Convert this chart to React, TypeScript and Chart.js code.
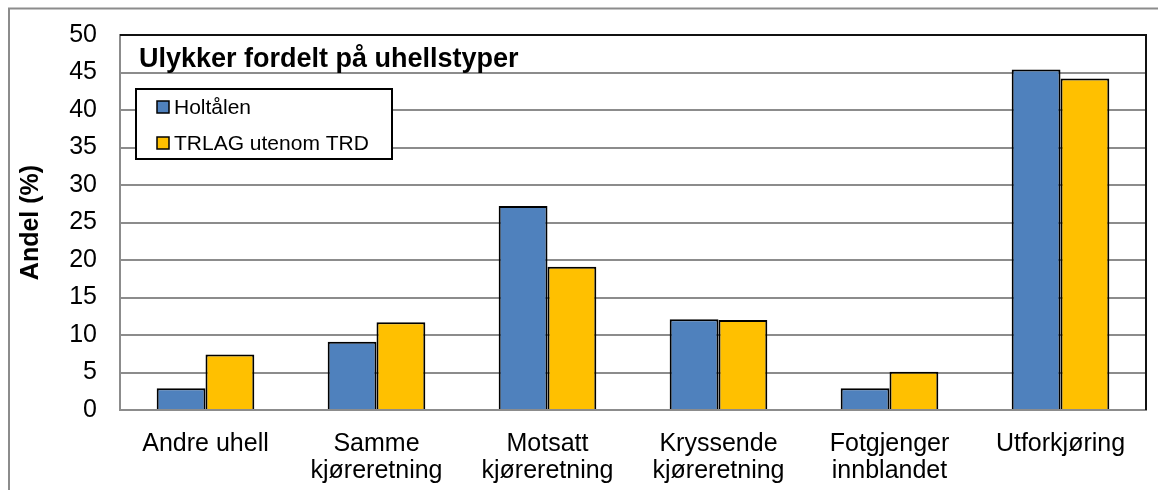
import React, { useEffect, useRef } from 'react';
import { Chart, registerables } from 'chart.js';

Chart.register(...registerables);

const categories: string[][] = [
  ['Andre uhell'],
  ['Samme', 'kjøreretning'],
  ['Motsatt', 'kjøreretning'],
  ['Kryssende', 'kjøreretning'],
  ['Fotgjenger', 'innblandet'],
  ['Utforkjøring'],
];
const holtalenValues = [2.9, 9.1, 27.2, 12.1, 2.9, 45.4];
const trlagValues = [7.4, 11.7, 19.1, 12.0, 5.1, 44.2];
const seriesNames = ['Holtålen', 'TRLAG utenom TRD'];
const seriesColors = ['#4f81bd', '#ffc000'];
const chartTitle = 'Ulykker fordelt på uhellstyper';
const yAxisTitle = 'Andel (%)';
const yMin = 0;
const yMax = 50;
const yStep = 5;

const FONT = '"Liberation Sans", Arial, Helvetica, sans-serif';

const overlayPlugin = {
  id: 'overlay',
  afterDraw(chart: any) {
    const { ctx, chartArea: a } = chart;
    ctx.save();
    // outer chart frame (left and top edges visible)
    ctx.strokeStyle = '#8c8c8c';
    ctx.lineWidth = 2;
    ctx.beginPath();
    ctx.moveTo(9, 520);
    ctx.lineTo(9, 8.5);
    ctx.lineTo(1200, 8.5);
    ctx.stroke();
    // plot area top and right border
    ctx.strokeStyle = '#111';
    ctx.lineWidth = 2;
    ctx.beginPath();
    ctx.moveTo(a.left, a.top);
    ctx.lineTo(a.right, a.top);
    ctx.lineTo(a.right, a.bottom);
    ctx.stroke();
    // chart title inside plot area
    ctx.fillStyle = '#000';
    ctx.font = `bold 27px ${FONT}`;
    ctx.textAlign = 'left';
    ctx.textBaseline = 'alphabetic';
    ctx.fillText(chartTitle, a.left + 19, 67);
    // legend box
    const bx = a.left + 16;
    const by = 89;
    const bw = 256;
    const bh = 70;
    ctx.fillStyle = '#fff';
    ctx.fillRect(bx, by, bw, bh);
    ctx.strokeStyle = '#000';
    ctx.lineWidth = 2;
    ctx.strokeRect(bx, by, bw, bh);
    ctx.font = `21px ${FONT}`;
    chart.data.datasets.forEach((ds: any, i: number) => {
      const base = by + 25 + i * 36;
      const cy = base - 7;
      ctx.fillStyle = ds.backgroundColor;
      ctx.fillRect(bx + 21, cy - 6, 12, 12);
      ctx.strokeStyle = '#000';
      ctx.lineWidth = 1.5;
      ctx.strokeRect(bx + 21, cy - 6, 12, 12);
      ctx.fillStyle = '#000';
      ctx.textBaseline = 'alphabetic';
      ctx.fillText(ds.label, bx + 38, base);
    });
    ctx.restore();
  },
};

export default function App() {
  const canvasRef = useRef<HTMLCanvasElement | null>(null);

  useEffect(() => {
    if (!canvasRef.current) return;
    const chart = new Chart(canvasRef.current, {
      type: 'bar',
      data: {
        labels: categories,
        datasets: [
          {
            label: seriesNames[0],
            data: holtalenValues,
            backgroundColor: seriesColors[0],
            borderColor: '#000',
            borderWidth: 2,
            categoryPercentage: 0.571,
            barPercentage: 1,
          },
          {
            label: seriesNames[1],
            data: trlagValues,
            backgroundColor: seriesColors[1],
            borderColor: '#000',
            borderWidth: 2,
            categoryPercentage: 0.571,
            barPercentage: 1,
          },
        ],
      },
      options: {
        animation: false,
        responsive: true,
        maintainAspectRatio: false,
        devicePixelRatio: 1,
        layout: { padding: { left: 10, top: 35, right: 12, bottom: 0 } },
        plugins: {
          legend: { display: false },
          title: { display: false },
          tooltip: { enabled: false },
        },
        scales: {
          x: {
            grid: { display: false, drawTicks: false },
            border: { display: true, color: '#8c8c8c', width: 2 },
            ticks: {
              color: '#000',
              font: { family: FONT, size: 25, lineHeight: 1.1 },
              padding: 20,
              maxRotation: 0,
              autoSkip: false,
            },
            afterFit: (s: any) => {
              s.height = 80;
              s.paddingLeft = 0;
              s.paddingRight = 0;
            },
          },
          y: {
            min: yMin,
            max: yMax,
            grid: { color: '#8c8c8c', lineWidth: 2, drawTicks: false },
            border: { display: true, color: '#8c8c8c', width: 2 },
            ticks: {
              stepSize: yStep,
              color: '#000',
              font: { family: FONT, size: 25 },
              padding: 23,
            },
            title: {
              display: true,
              text: yAxisTitle,
              color: '#000',
              font: { family: FONT, size: 25, weight: 'bold', lineHeight: 1.2 },
              padding: { top: 6, bottom: 0 },
            },
            afterFit: (s: any) => {
              s.width = 110;
              s.paddingTop = 0;
              s.paddingBottom = 0;
            },
          },
        },
      },
      plugins: [overlayPlugin],
    });
    return () => chart.destroy();
  }, []);

  return (
    <div style={{ position: 'fixed', left: 0, top: 0, width: 1158, height: 490, background: '#fff' }}>
      <canvas ref={canvasRef} />
    </div>
  );
}
